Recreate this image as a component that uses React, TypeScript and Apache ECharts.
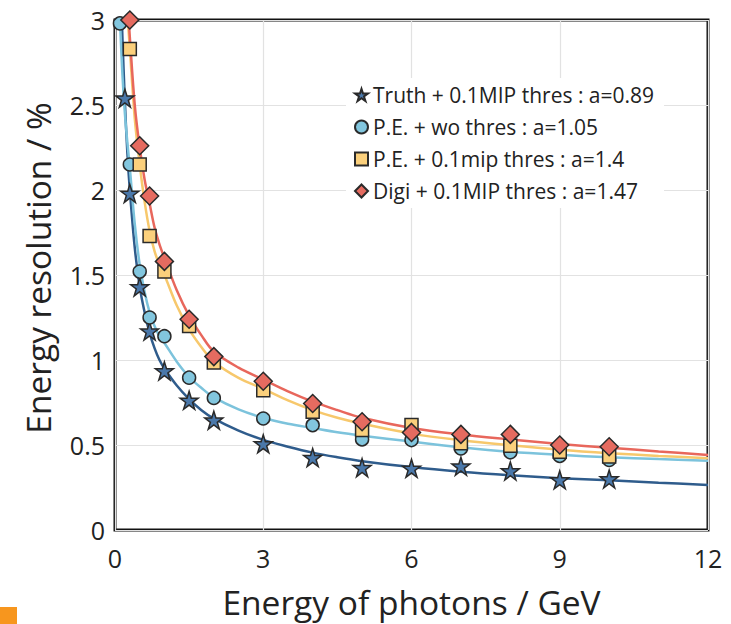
import React, { useEffect, useRef } from "react";
import * as echarts from "echarts";

// ---- data ----
const truthPts: [number, number][] = [
  [0.2, 2.54], [0.3, 1.98], [0.5, 1.43], [0.7, 1.17], [1, 0.936], [1.5, 0.763], [2, 0.646],
  [3, 0.507], [4, 0.426], [5, 0.367], [6, 0.363], [7, 0.375], [8, 0.347], [9, 0.295], [10, 0.3],
];
const peWoPts: [number, number][] = [
  [0.1, 2.98], [0.3, 2.15], [0.5, 1.52], [0.7, 1.25], [1, 1.14], [1.5, 0.896], [2, 0.777],
  [3, 0.656], [4, 0.617], [5, 0.533], [6, 0.529], [7, 0.48], [8, 0.457], [9, 0.436], [10, 0.412],
];
const peMipPts: [number, number][] = [
  [0.3, 2.83], [0.5, 2.15], [0.7, 1.73], [1, 1.52], [1.5, 1.2], [2, 0.985],
  [3, 0.822], [4, 0.695], [5, 0.588], [6, 0.617], [7, 0.51], [8, 0.496], [9, 0.461], [10, 0.432],
];
const digiPts: [number, number][] = [
  [0.3, 3.0], [0.5, 2.26], [0.7, 1.965], [1, 1.58], [1.5, 1.24], [2, 1.02],
  [3, 0.875], [4, 0.744], [5, 0.637], [6, 0.574], [7, 0.5625], [8, 0.5625], [9, 0.5], [10, 0.49],
];

// fit curves
const truthFit: [number, number][] = [
  [0.14, 3.0], [0.15, 2.9], [0.2, 2.52], [0.25, 2.22], [0.3, 2.0], [0.4, 1.66], [0.5, 1.43],
  [0.6, 1.28], [0.7, 1.16], [0.8, 1.07], [0.9, 1.0], [1, 0.95], [1.25, 0.85], [1.5, 0.77],
  [1.75, 0.705], [2, 0.655], [2.5, 0.585], [3, 0.53], [3.5, 0.49], [4, 0.455], [4.5, 0.428],
  [5, 0.405], [6, 0.37], [7, 0.343], [8, 0.322], [9, 0.305], [10, 0.292], [11, 0.278], [12, 0.265],
];
const peWoFit: [number, number][] = [
  [0.1, 3.0], [0.15, 2.68], [0.2, 2.45], [0.25, 2.28], [0.3, 2.13], [0.4, 1.8], [0.5, 1.56],
  [0.6, 1.4], [0.7, 1.28], [0.8, 1.2], [0.9, 1.14], [1, 1.1], [1.25, 0.99], [1.5, 0.9],
  [1.75, 0.835], [2, 0.78], [2.5, 0.71], [3, 0.66], [3.5, 0.625], [4, 0.6], [4.5, 0.575],
  [5, 0.555], [6, 0.52], [7, 0.487], [8, 0.46], [9, 0.442], [10, 0.428], [11, 0.417], [12, 0.408],
];
const peMipFit: [number, number][] = [
  [0.26, 3.0], [0.3, 2.83], [0.4, 2.42], [0.5, 2.15], [0.6, 1.93], [0.7, 1.76], [0.8, 1.64],
  [0.9, 1.56], [1, 1.5], [1.25, 1.32], [1.5, 1.18], [1.75, 1.075], [2, 0.99], [2.5, 0.895],
  [3, 0.83], [3.5, 0.762], [4, 0.705], [4.5, 0.66], [5, 0.625], [6, 0.567], [7, 0.528],
  [8, 0.498], [9, 0.472], [10, 0.452], [11, 0.436], [12, 0.422],
];
const digiFit: [number, number][] = [
  [0.28, 3.0], [0.3, 2.9], [0.4, 2.5], [0.5, 2.25], [0.6, 2.06], [0.7, 1.92], [0.8, 1.78],
  [0.9, 1.68], [1, 1.6], [1.25, 1.41], [1.5, 1.26], [1.75, 1.145], [2, 1.05], [2.5, 0.955],
  [3, 0.885], [3.5, 0.815], [4, 0.755], [4.5, 0.705], [5, 0.66], [6, 0.6], [7, 0.562],
  [8, 0.533], [9, 0.506], [10, 0.484], [11, 0.462], [12, 0.441],
];

const seriesNames = [
  "Truth + 0.1MIP thres : a=0.89",
  "P.E. + wo thres : a=1.05",
  "P.E. + 0.1mip thres : a=1.4",
  "Digi + 0.1MIP thres : a=1.47",
];
const xTitle = "Energy of photons / GeV";
const yTitle = "Energy resolution / %";

const STAR =
  "path://M50,0 L61.2,34.5 L97.6,34.5 L68.2,55.9 L79.4,90.5 L50,69.1 L20.6,90.5 L31.8,55.9 L2.4,34.5 L38.8,34.5 Z";

const FONT = "Open Sans";

export default function App() {
  const ref = useRef<HTMLDivElement>(null);
  useEffect(() => {
    if (!ref.current) return;
    const chart = echarts.init(ref.current, undefined, { renderer: "svg" });
    const edge = "#2a2a2a";
    const lineSeries = (name: string, data: [number, number][], color: string) => ({
      name,
      type: "line",
      data,
      smooth: 0.35,
      showSymbol: false,
      symbol: "none",
      lineStyle: { color, width: 2.5 },
      z: 2,
      silent: true,
    });
    const scat = (name: string, data: [number, number][], symbol: string, size: number, color: string, z: number) => ({
      name,
      type: "scatter",
      data,
      symbol,
      symbolSize: size,
      clip: false,
      itemStyle: { color, borderColor: edge, borderWidth: 1.5, opacity: 1 },
      z,
    });
    chart.setOption({
      animation: false,
      textStyle: { fontFamily: FONT },
      grid: {
        left: 115,
        right: 23,
        top: 20,
        bottom: 92,
        show: true,
        borderColor: "#111",
        borderWidth: 3,
        backgroundColor: "#fff",
      },
      legend: {
        data: seriesNames,
        orient: "vertical",
        left: 346,
        top: 78,
        backgroundColor: "#fff",
        padding: [6, 10, 6, 8],
        itemGap: 10,
        itemWidth: 13,
        itemHeight: 13,
        textStyle: { fontFamily: FONT, fontSize: 21, lineHeight: 22, color: "#222" },
      },
      xAxis: {
        type: "value",
        min: 0,
        max: 12,
        interval: 3,
        name: xTitle,
        nameLocation: "middle",
        nameGap: 55,
        nameTextStyle: { fontFamily: FONT, fontSize: 33.5, color: "#222" },
        axisLine: { show: false },
        axisTick: { show: false },
        axisLabel: { fontFamily: FONT, fontSize: 25, color: "#222", margin: 15 },
        splitLine: { show: true, lineStyle: { color: "#e2e2e2", width: 1.2 } },
      },
      yAxis: {
        type: "value",
        min: 0,
        max: 3,
        interval: 0.5,
        axisLine: { show: false },
        axisTick: { show: false },
        axisLabel: { fontFamily: FONT, fontSize: 25, color: "#222", margin: 10 },
        splitLine: { show: true, lineStyle: { color: "#e2e2e2", width: 1.2 } },
      },
      series: [
        lineSeries("fitTruth", truthFit, "#2f5c8c"),
        lineSeries("fitPeWo", peWoFit, "#7cc3dc"),
        lineSeries("fitPeMip", peMipFit, "#f7c86c"),
        lineSeries("fitDigi", digiFit, "#e8675c"),
        scat(seriesNames[0], truthPts, STAR, 18, "#4a78aa", 3),
        scat(seriesNames[1], peWoPts, "circle", 13, "#82c6de", 4),
        scat(seriesNames[2], peMipPts, "rect", 13, "#fbd07c", 5),
        scat(seriesNames[3], digiPts, "diamond", 18, "#e56b60", 6),
      ],
      graphic: [
        {
          type: "text",
          x: 38,
          y: 268,
          rotation: Math.PI / 2,
          style: {
            text: yTitle,
            fontFamily: FONT,
            fontSize: 33.5,
            fill: "#222",
            align: "center",
            verticalAlign: "middle",
          },
        },
        {
          type: "rect",
          left: 0,
          top: 607,
          shape: { width: 17, height: 17 },
          style: { fill: "#f7961e" },
        },
      ],
    });
    return () => chart.dispose();
  }, []);
  return (
    <div
      ref={ref}
      style={{ position: "fixed", left: 0, top: 0, width: 731, height: 624, background: "#fff" }}
    />
  );
}
